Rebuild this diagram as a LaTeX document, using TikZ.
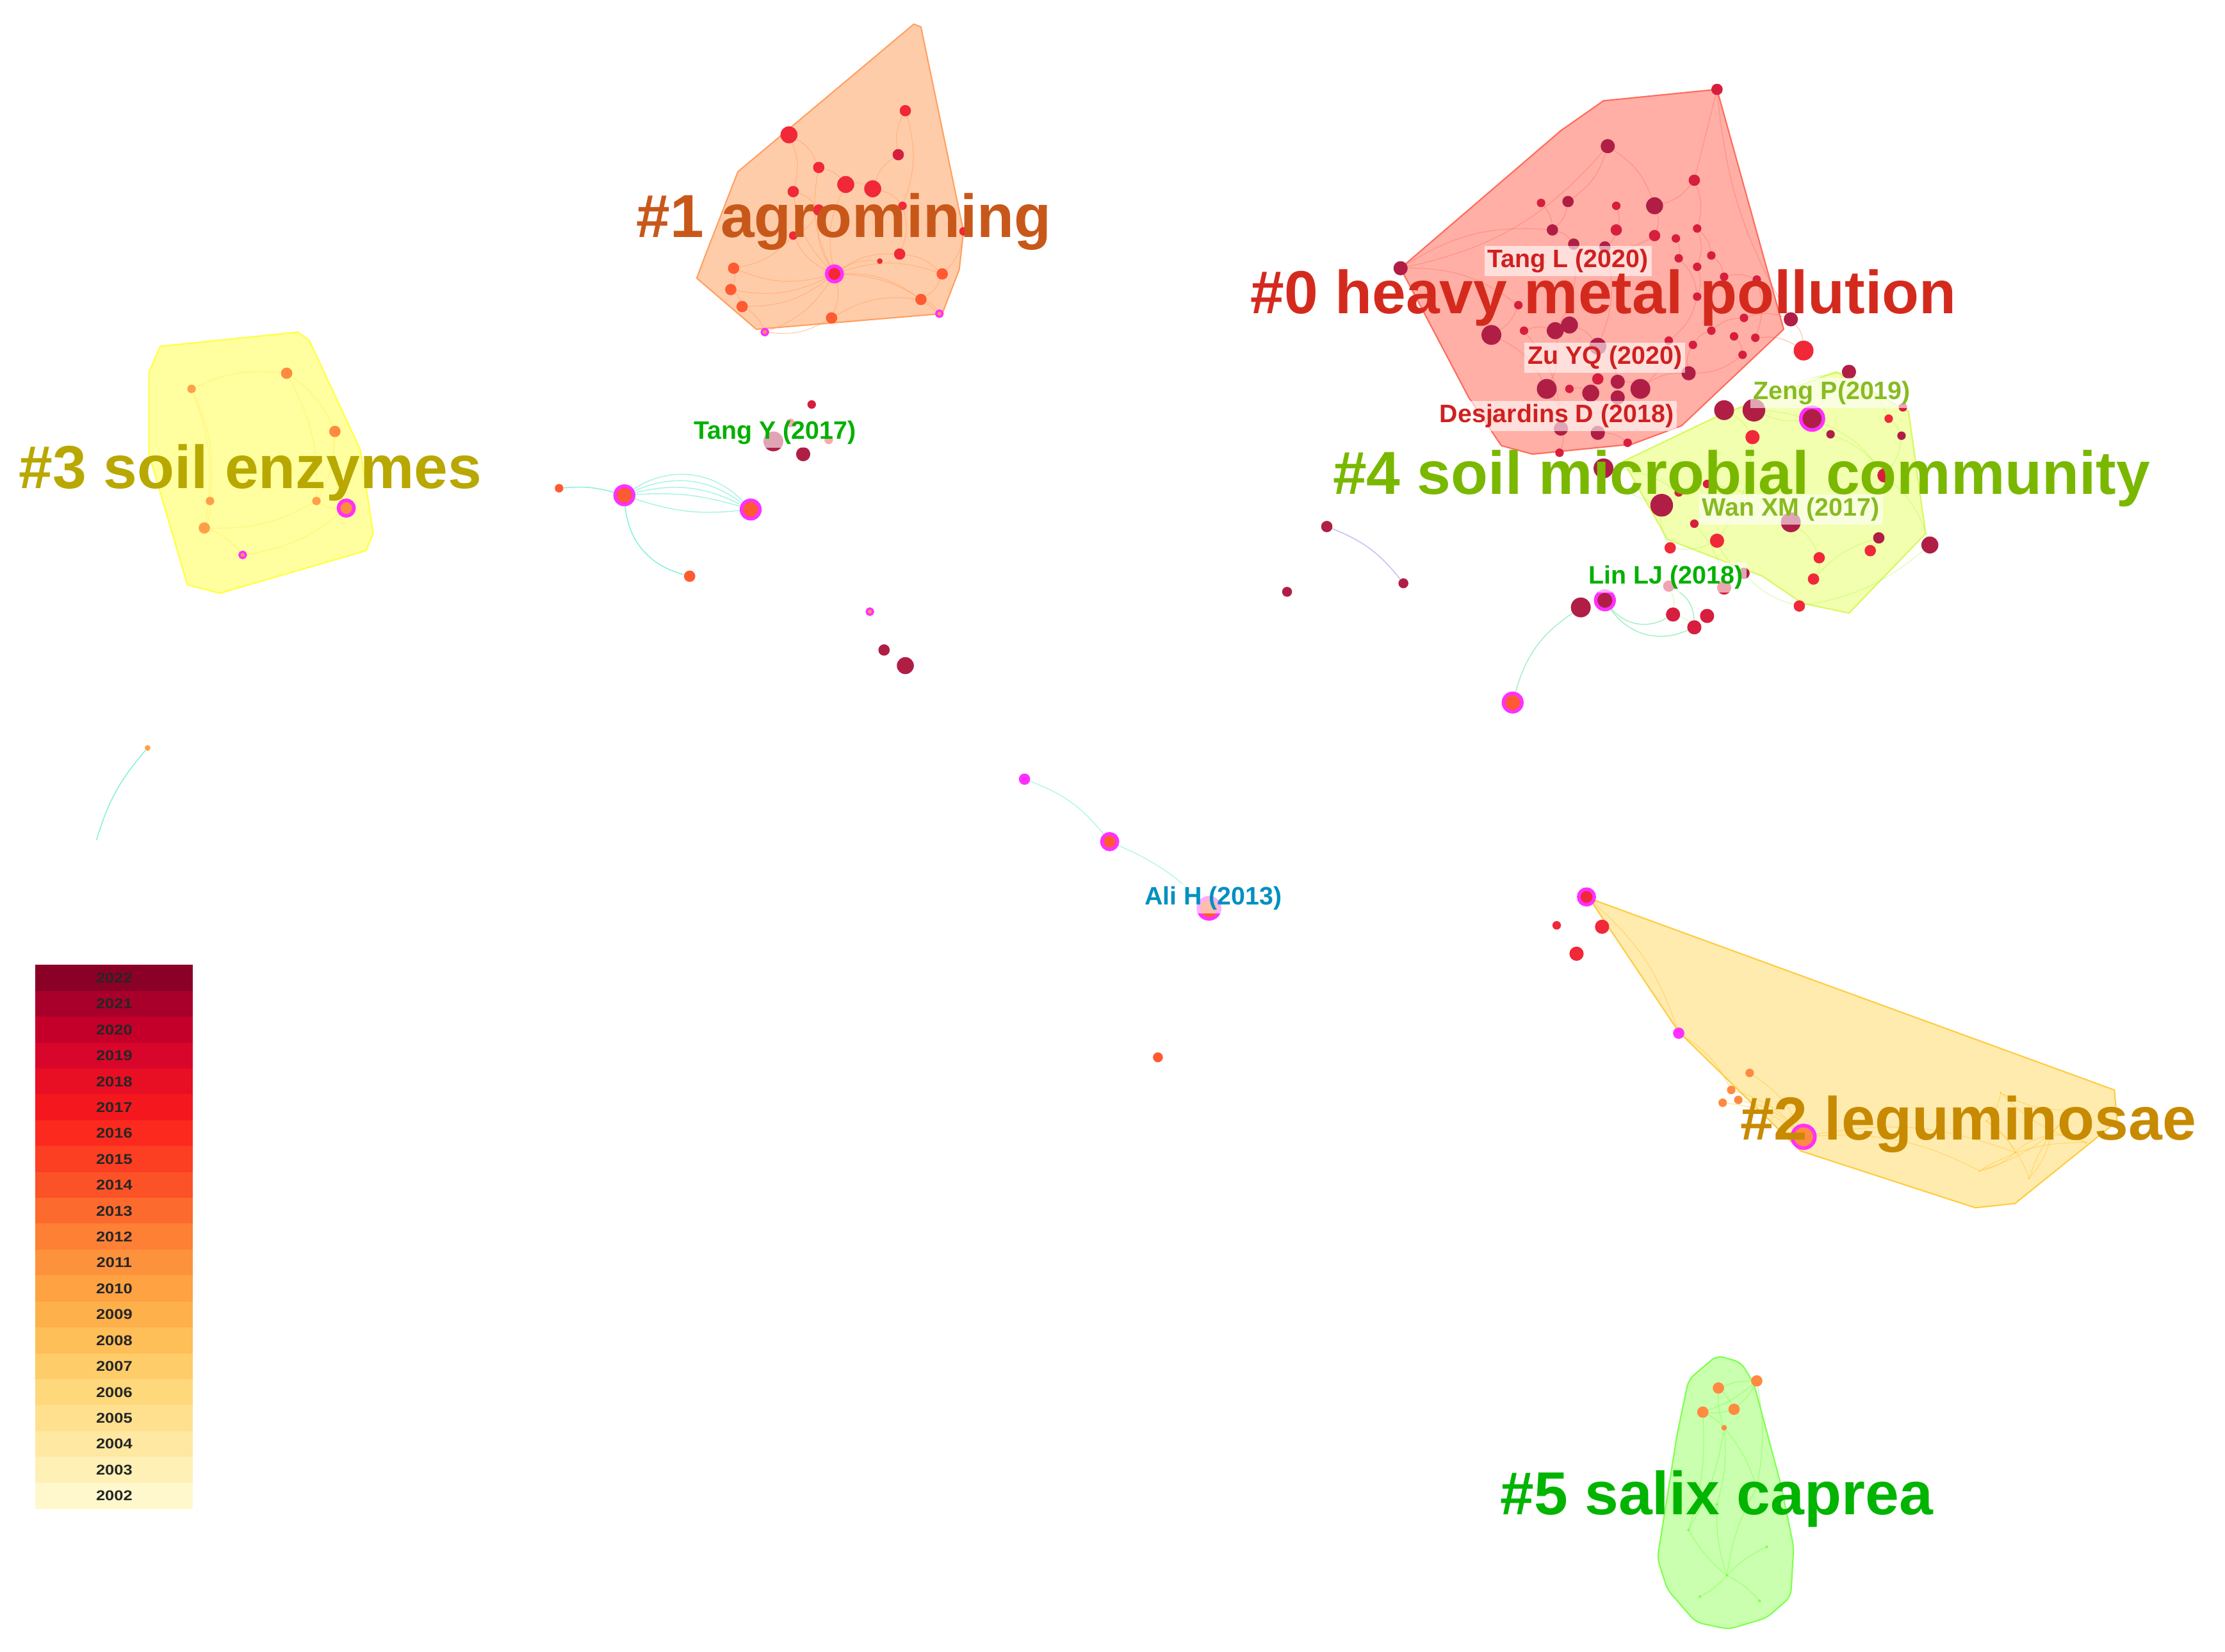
\documentclass[tikz,border=0pt]{standalone}
\usepackage{fontspec}
\setmainfont{Liberation Sans}
\pgfdeclarelayer{hull}
\pgfdeclarelayer{edge}
\pgfsetlayers{hull,edge,main}
% node colours
\definecolor{cmar}{HTML}{B01E46}
\definecolor{ccrim}{HTML}{D81E3E}
\definecolor{cred}{HTML}{F02838}
\definecolor{cor}{HTML}{FF5A32}
\definecolor{corl}{HTML}{FF8A40}
\definecolor{cyel}{HTML}{FFA048}
\definecolor{cmag}{HTML}{FF30FF}
% hulls
\definecolor{hzf}{HTML}{FF9C90}\definecolor{hze}{HTML}{FF6A5A}
\definecolor{haf}{HTML}{FFC49A}\definecolor{hae}{HTML}{FFA060}
\definecolor{hbf}{HTML}{FFE8A0}\definecolor{hbe}{HTML}{FFCC40}
\definecolor{hcf}{HTML}{FFFF90}\definecolor{hce}{HTML}{FFFF40}
\definecolor{hdf}{HTML}{F0FFA0}\definecolor{hde}{HTML}{D8F860}
\definecolor{hef}{HTML}{C0FFA0}\definecolor{hee}{HTML}{80FF50}
% labels
\definecolor{tz}{HTML}{D42A1E}
\definecolor{ta}{HTML}{C8581A}
\definecolor{tb}{HTML}{C88A00}
\definecolor{tc}{HTML}{B8A800}
\definecolor{td}{HTML}{7AB800}
\definecolor{te}{HTML}{00B400}
\definecolor{tauth}{HTML}{D02020}
\definecolor{tolive}{HTML}{88BB22}
\definecolor{tgreen}{HTML}{00B000}
\definecolor{tblue}{HTML}{0090C0}
% legend
\definecolor{lA}{HTML}{8B0026}\definecolor{lB}{HTML}{A8002A}\definecolor{lC}{HTML}{C4002A}
\definecolor{lD}{HTML}{D8062A}\definecolor{lE}{HTML}{E80E24}\definecolor{lF}{HTML}{F4181E}
\definecolor{lG}{HTML}{FC2A1E}\definecolor{lH}{HTML}{FC3E22}\definecolor{lI}{HTML}{FC5228}
\definecolor{lJ}{HTML}{FC6A2E}\definecolor{lK}{HTML}{FD8035}\definecolor{lL}{HTML}{FD923C}
\definecolor{lM}{HTML}{FEA242}\definecolor{lN}{HTML}{FEB04A}\definecolor{lO}{HTML}{FEBE58}
\definecolor{lP}{HTML}{FECC68}\definecolor{lQ}{HTML}{FED87A}\definecolor{lR}{HTML}{FEE08E}
\definecolor{lS}{HTML}{FEE8A2}\definecolor{lT}{HTML}{FFF0B6}\definecolor{lU}{HTML}{FFF8CC}
\definecolor{ecyan}{HTML}{80F0D8}
\definecolor{elav}{HTML}{C8C8F8}
\definecolor{egrn}{HTML}{A0F0C0}
\tikzset{
  dot/.style={circle,inner sep=0pt,minimum size={2*#1*0.022156cm}},
  ring/.style 2 args={circle,inner sep=0pt,draw=cmag,line width=0.055cm,minimum size={2*#1*0.022156cm},fill=#2},
  sring/.style={circle,inner sep=0pt,draw=cmag,line width=0.035cm,minimum size=0.1cm,fill=cyel},
  clab/.style={font=\fontsize{27}{30}\selectfont\bfseries,anchor=base west,inner sep=0pt},
  alab/.style={font=\fontsize{11.2}{13}\selectfont\bfseries,fill=white,fill opacity=0.6,text opacity=1,inner sep=1.5pt},
  band/.style={rectangle,inner sep=0pt,minimum width={111*0.022156cm},minimum height={18.5*0.022156cm},font=\fontsize{6.3}{7}\selectfont\bfseries,text=black!85},
  hullst/.style={line width=0.6pt,line join=round,fill opacity=0.85},
  ez/.style={draw=hze,line width=0.3pt,opacity=0.45,bend left=18},
  ea/.style={draw=hae,line width=0.3pt,opacity=0.55,bend left=18},
  eb/.style={draw=hbe,line width=0.3pt,opacity=0.6,bend left=15},
  ec/.style={draw=hce!80!orange,line width=0.3pt,opacity=0.35,bend left=15},
  ed/.style={draw=hde!80!green,line width=0.3pt,opacity=0.45,bend left=15},
  ee/.style={draw=hee,line width=0.3pt,opacity=0.6,bend left=10},
  ecy/.style={draw=ecyan,line width=0.4pt}
}
\begin{document}
\begin{tikzpicture}[x=0.022156cm,y=-0.022156cm]
\useasboundingbox (0,0) rectangle (1568,1164);

% ---------------- hulls ----------------
\begin{pgfonlayer}{hull}
\fill[white] (0,0) rectangle (1568,1164);
\filldraw[hullst,fill=haf,draw=hae] (644,17) -- (649,19) -- (679,163) -- (676,190) -- (664,221) -- (533,232) -- (491,196) -- (497,180) -- (520,121) -- cycle;
\filldraw[hullst,fill=hcf,draw=hce] (113,244) -- (210,234) -- (218,240) -- (254,317) -- (263,376) -- (258,388) -- (155,418) -- (132,412) -- (105,320) -- (105,262) -- cycle;
\filldraw[hullst,fill=hdf,draw=hde] (1144,325) -- (1213,292) -- (1294,262) -- (1345,290) -- (1357,376) -- (1303,432) -- (1270,425) -- (1242,406) -- (1175,380) -- cycle;
\filldraw[hullst,fill=hzf,draw=hze,fill opacity=0.8] (1210,63) -- (1130,71) -- (1100,92) -- (987,189) -- (1035,280) -- (1058,314) -- (1080,320) -- (1150,313) -- (1185,300) -- (1257,232) -- cycle;
\filldraw[hullst,fill=hbf,draw=hbe] (1120,633) -- (1490,768) -- (1492,790) -- (1420,848) -- (1392,851) -- (1269,811) -- (1183,727) -- cycle;
\filldraw[hullst,fill=hef,draw=hee,rounded corners=3pt] (1210,955) -- (1227,960) -- (1236,975) -- (1255,1046) -- (1264,1090) -- (1262,1125) -- (1245,1140) -- (1218,1148) -- (1195,1143) -- (1175,1120) -- (1168,1098) -- (1182,1010) -- (1190,972) -- cycle;
\end{pgfonlayer}

% ---------------- nodes ----------------
% cluster #0
\foreach \x/\y/\r/\c [count=\i] in {1210/63/4/ccrim,1133/103/5/cmar,1194/127/4/ccrim,1086/143/3/ccrim,1105/142/4/cmar,1139/145/3/ccrim,1166/145/6/cmar,1094/162/4/cmar,1139/162/4/ccrim,1166/166/4/ccrim,1181/168/3/ccrim,1196/161/3/ccrim,1183/182/3/ccrim,1206/180/3/ccrim,1196/188/3/ccrim,987/189/5/cmar,1109/172/4/cmar,1131/174/4/cmar,1215/195/3/ccrim,1238/197/3/ccrim,1196/209/3/ccrim,1070/215/3/ccrim,1229/224/3/ccrim,1262/225/5/cmar,1051/236/7/cmar,1074/233/3/ccrim,1096/233/6/cmar,1106/229/6/cmar,1206/233/3/ccrim,1222/237/3/ccrim,1237/238/3/ccrim,1126/244/6/cmar,1176/240/3/ccrim,1193/243/3/ccrim,1271/247/7/cred,1228/250/3/ccrim,1190/263/5/cmar,1090/274/7/cmar,1106/274/3/ccrim,1121/277/6/cmar,1140/269/5/cmar,1156/274/7/cmar,1140/280/5/cmar,1126/267/4/ccrim,1100/302/5/cmar,1126/305/5/cmar,1147/312/3/ccrim,1099/319/3/ccrim}
  \node[dot=\r,fill=\c] (z\i) at (\x,\y) {};
% cluster #4
\foreach \x/\y/\r/\c [count=\i] in {1303/262/5/cmar,1215/289/7/cmar,1236/289/8/cmar,1331/295/3/cred,1341/287/3/ccrim,1290/306/3/cmar,1340/307/3/cmar,1235/308/5/cred,1130/330/7/cmar,1183/347/3/ccrim,1203/341/3/ccrim,1328/335/5/ccrim,1171/356/8/cmar,1194/369/3/ccrim,1262/368/7/cmar,1210/381/5/cred,1177/386/4/cred,1324/379/4/cmar,1360/384/6/cmar,1318/388/4/cred,1282/393/4/cred,1229/404/4/cmar,1278/408/4/cred,1268/427/4/cred,1215/414/5/ccrim,1176/413/4/ccrim,1114/428/7/cmar,1179/433/5/ccrim,1203/434/5/ccrim,1194/442/5/ccrim}
  \node[dot=\r,fill=\c] (w\i) at (\x,\y) {};
\node[ring={8}{cmar}] (zeng) at (1277,295) {};
\node[ring={6.5}{cmar}] (linlj) at (1131,423) {};
\node[ring={6.5}{cor}] (linb) at (1066,495) {};
% cluster #1
\foreach \x/\y/\r/\c [count=\i] in {556/95/6/cred,638/78/4/cred,633/109/4/ccrim,577/118/4/cred,596/130/6/cred,615/133/6/cred,559/135/4/cred,577/148/4/cred,636/145/3/cred,679/163/3/cred,559/166/3/cred,634/179/4/cred,620/184/2/cred,517/189/4/cor,515/204/4/cor,523/216/4/cor,586/224/4/cor,664/193/4/cor,649/211/4/cor}
  \node[dot=\r,fill=\c] (o\i) at (\x,\y) {};
\node[ring={5.5}{cred}] (ohub) at (588,193) {};
\node[sring] (os1) at (539,234) {};
\node[sring] (os2) at (662,221) {};
% cluster #3
\foreach \x/\y/\r/\c [count=\i] in {135/274/3/cyel,202/263/4/corl,236/304/4/corl,148/353/3/cyel,223/353/3/cyel,144/372/4/cyel}
  \node[dot=\r,fill=\c] (s\i) at (\x,\y) {};
\node[ring={5.5}{corl}] (shub) at (244,358) {};
\node[sring] (ss1) at (171,391) {};
% Tang Y group
\node[dot=3,fill=cor] (t1) at (394,344) {};
\node[ring={6.5}{cor}] (t2) at (440,349) {};
\node[ring={6.5}{cor}] (t3) at (529,359) {};
\node[dot=4,fill=cor] (t4) at (486,406) {};
\node[dot=3,fill=ccrim] (t5) at (572,285) {};
\node[dot=7,fill=cmar] (t6) at (545,311) {};
\node[dot=5,fill=cmar] (t7) at (566,320) {};
\node[dot=3,fill=cred] (t8) at (584,310) {};
\node[dot=3,fill=cred] (t9) at (557,298) {};
\node[sring] (t10) at (613,431) {};
% middle
\node[dot=4,fill=cmar] (m1) at (623,458) {};
\node[dot=6,fill=cmar] (m2) at (638,469) {};
\node[dot=4,fill=cmag] (m3) at (722,549) {};
\node[ring={5.5}{cor}] (m4) at (782,593) {};
\node[ring={7.5}{cor}] (m5) at (852,640) {};
\node[dot=3.5,fill=cor] (m6) at (816,745) {};
\node[dot=2,fill=cyel] (p1) at (104,527) {};
\coordinate (p2) at (68,592);
\node[dot=4,fill=cmar] (d1) at (935,371) {};
\node[dot=3.5,fill=cmar] (d2) at (907,417) {};
\node[dot=3.5,fill=cmar] (d3) at (989,411) {};
% cluster #2
\node[ring={5.5}{cred}] (g1) at (1118,632) {};
\node[dot=5,fill=cred] (g2) at (1129,653) {};
\node[dot=3,fill=cred] (g3) at (1097,652) {};
\node[dot=5,fill=cred] (g4) at (1111,672) {};
\node[dot=4,fill=cmag] (g5) at (1183,728) {};
\foreach \x/\y [count=\i] in {1220/768,1233/756,1214/777,1225/775}
  \node[dot=3,fill=corl] (g6\i) at (\x,\y) {};
\node[ring={8}{corl}] (g7) at (1271,801) {};
\foreach \x/\y [count=\i] in {1400/790,1420/812,1445/800,1430/830,1462/782,1395/825,1470/805,1410/770}
  \node[dot=0.8,fill=hbe] (gq\i) at (\x,\y) {};
% cluster #5
\foreach \x/\y/\r [count=\i] in {1211/978/4,1238/973/4,1222/993/4,1200/995/4,1215/1006/2}
  \node[dot=\r,fill=corl] (v\i) at (\x,\y) {};
\foreach \x/\y [count=\i] in {1217/1110,1210/1060,1238/1048,1190/1078,1245/1090,1198/1125,1240/1128}
  \node[dot=1,fill=hee] (vq\i) at (\x,\y) {};

% ---------------- edges ----------------
\begin{pgfonlayer}{edge}
\foreach \a/\b in {2/7,2/5,7/10,5/8,8/17,17/27,27/38,10/18,18/32,32/41,41/42,42/37,37/34,34/29,29/23,23/24,3/12,12/14,14/19,19/20,20/31,31/35,16/22,22/25,25/38,38/45,45/48,46/47,43/46,40/44,9/18,6/9,4/8,13/21,21/33,33/42,15/21,11/13,30/36,36/37,26/27,28/32,39/40,16/8,2/16,3/7,12/15,24/35,26/45}
  \draw[ez] (z\a) to (z\b);
\draw[ez,bend left=0] (z1) to (z3);
\draw[ez,bend left=-12] (z1) to (z24);
\foreach \a/\b in {1/4,4/7,2/8,3/6,6/12,12/19,19/24,24/22,22/16,16/17,17/13,13/9,9/10,10/11,11/15,15/21,21/23,23/18,18/20,8/16,14/25,25/22,3/1,7/12,26/28,28/30}
  \draw[ed] (w\a) to (w\b);
\draw[ed] (zeng) to (w1); \draw[ed] (zeng) to (w3); \draw[ed] (zeng) to (w12);
\foreach \b in {4,5,7,8,11,12,13,14,15,16,17,18,19}
  \draw[ea] (ohub) to (o\b);
\foreach \a/\b in {1/4,4/5,5/6,6/3,3/2,2/9,9/12,7/8,14/15,15/16,1/7,10/18,18/19,11/14,12/18,6/9,8/11,17/19}
  \draw[ea] (o\a) to (o\b);
\draw[ea] (o16) to (os1); \draw[ea] (o17) to (os1); \draw[ea] (o19) to (os2); \draw[ea] (ohub) to (os1); \draw[ea] (ohub) to (os2);
\foreach \a/\b in {1/2,2/3,1/4,4/6,3/5,5/6,2/5,1/6}
  \draw[ec] (s\a) to (s\b);
\draw[ec] (shub) to (s3); \draw[ec] (shub) to (s5); \draw[ec] (shub) to (ss1); \draw[ec] (s6) to (ss1);
\foreach \b in {10,20,30,40}
  \draw[ecy,bend left=\b,opacity=0.7] (t2) to (t3);
\draw[ecy,bend right=12,opacity=0.7] (t2) to (t3);
\draw[ecy,bend left=10] (t1) to (t2);
\draw[ecy,bend left=35] (t4) to (t2);
\draw[ecy,draw=ecyan!60,bend left=15] (m3) to (m4);
\draw[ecy,draw=ecyan!60,bend left=10] (m4) to (m5);
\draw[ecy,bend right=12] (p1) to (p2);
\draw[draw=elav,line width=0.5pt,bend left=15] (d1) to (d3);
\draw[draw=egrn,line width=0.4pt,bend left=20] (linb) to (w27);
\draw[draw=egrn,line width=0.4pt,bend right=40] (linlj) to (w28);
\draw[draw=egrn,line width=0.4pt,bend right=40] (linlj) to (w30);
\draw[draw=egrn,line width=0.4pt,bend right=30] (w30) to (w26);
\draw[eb] (g1) to (g5); \draw[eb] (g5) to (g61); \draw[eb] (g61) to (g7); \draw[eb] (g62) to (g7); \draw[eb] (g63) to (g7); \draw[eb] (g64) to (g7);
\foreach \a/\b in {1/2,2/3,3/4,4/5,5/6,6/7,7/8,8/1,1/4,2/6,3/7,5/8}
  \draw[eb] (gq\a) to (gq\b);
\draw[eb] (g7) to (gq6); \draw[eb] (g7) to (gq2);
\foreach \a/\b in {1/2,2/3,3/4,4/5,5/1,1/3,2/4}
  \draw[ee] (v\a) to (v\b);
\foreach \b in {2,3,4,5,6,7}
  \draw[ee] (vq1) to (vq\b);
\draw[ee] (v5) to (vq2); \draw[ee] (v5) to (vq3); \draw[ee] (v5) to (vq4); \draw[ee] (v4) to (vq4); \draw[ee] (v2) to (vq3);
\end{pgfonlayer}

% ---------------- author labels ----------------
\node[alab,text=tauth] (la) at (1105,184) {Tang L (2020)};
\node[alab,text=tauth] (lb) at (1131,252) {Zu YQ (2020)};
\node[alab,text=tauth] (lc) at (1097,293) {Desjardins D (2018)};
\node[alab,text=tolive] (ld) at (1291,277) {Zeng P(2019)};
\node[alab,text=tolive] (le) at (1262,359) {Wan XM (2017)};
\node[alab,text=tgreen] (lf) at (1174,407) {Lin LJ (2018)};
\node[alab,text=tgreen] (lg) at (546,305) {Tang Y (2017)};
\node[alab,text=tblue] (lh) at (855,633) {Ali H (2013)};

% ---------------- cluster labels ----------------
\node[clab,text=tz] (c0) at (881,221) {\#0 heavy metal pollution};
\node[clab,text=ta] (c1) at (448,167) {\#1 agromining};
\node[clab,text=tb] (c2) at (1226,803) {\#2 leguminosae};
\node[clab,text=tc] (c3) at (13,344) {\#3 soil enzymes};
\node[clab,text=td] (c4) at (939,348) {\#4 soil microbial community};
\node[clab,text=te] (c5) at (1057,1067) {\#5 salix caprea};

% ---------------- legend ----------------
\foreach \yr/\c [count=\i] in {2022/lA,2021/lB,2020/lC,2019/lD,2018/lE,2017/lF,2016/lG,2015/lH,2014/lI,2013/lJ,2012/lK,2011/lL,2010/lM,2009/lN,2008/lO,2007/lP,2006/lQ,2005/lR,2004/lS,2003/lT,2002/lU}
  \node[band,fill=\c] (leg\yr) at (80.5,{680+(\i-0.5)*18.24}) {\scalebox{1.15}[1]{\yr}};
\end{tikzpicture}
\end{document}
